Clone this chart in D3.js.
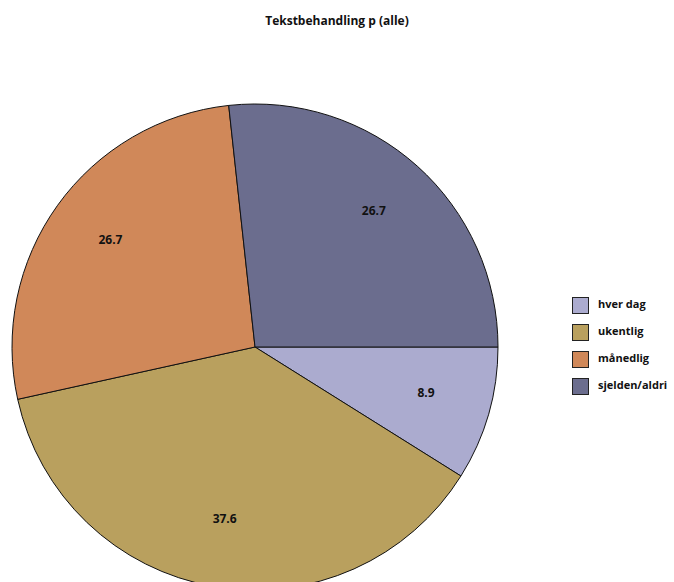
<!DOCTYPE html>
<html><head><meta charset="utf-8">
<script src="https://cdn.jsdelivr.net/npm/d3@7"></script>
<style>body{margin:0;background:#fff}svg{display:block}</style>
</head><body>
<svg id="c" width="674" height="582"></svg>
<script>
const categories = ["hver dag", "ukentlig", "månedlig", "sjelden/aldri"];
const values = [8.9, 37.6, 26.7, 26.7];
const colors = ["#ABABCF", "#B9A05E", "#D08859", "#6B6D8E"];
const title = "Tekstbehandling p (alle)";

const svg = d3.select("#c");
const font = "'Open Sans', 'DejaVu Sans', sans-serif";
svg.append("text").attr("x", 337).attr("y", 25).attr("text-anchor", "middle")
  .attr("font-family", font).attr("font-weight", "bold").attr("font-size", 12)
  .attr("fill", "#111").text(title);

const cx = 255, cy = 347, R = 243;
const data = categories.map((c, i) => ({c, v: values[i], col: colors[i]}));
const pie = d3.pie().value(d => d.v).sort(null)
  .startAngle(Math.PI / 2).endAngle(Math.PI / 2 + 2 * Math.PI);
const arcs = pie(data);
const arc = d3.arc().innerRadius(0).outerRadius(R);
const labelArc = d3.arc().innerRadius(178).outerRadius(178);
const g = svg.append("g").attr("transform", `translate(${cx},${cy})`);
g.selectAll("path").data(arcs).join("path")
  .attr("d", arc).attr("fill", d => d.data.col)
  .attr("stroke", "#111").attr("stroke-width", 1);
g.selectAll("text").data(arcs).join("text")
  .attr("transform", d => `translate(${labelArc.centroid(d)})`)
  .attr("text-anchor", "middle").attr("dy", "0.05em")
  .attr("font-family", font).attr("font-weight", "bold").attr("font-size", 12)
  .attr("fill", "#111").text(d => d.data.v.toFixed(1));

const leg = svg.append("g");
const ly = d3.scaleBand().domain(categories).range([297, 405]).paddingInner(0);
categories.forEach((c, i) => {
  const y = ly(c);
  leg.append("rect").attr("x", 572.5).attr("y", y + 0.5).attr("width", 16).attr("height", 16)
    .attr("fill", colors[i]).attr("stroke", "#222").attr("stroke-width", 1);
  leg.append("text").attr("x", 598).attr("y", y + 7).attr("dy", "0.35em")
    .attr("font-family", font).attr("font-weight", "bold").attr("font-size", 11)
    .attr("fill", "#111").text(c);
});
</script>
</body></html>
